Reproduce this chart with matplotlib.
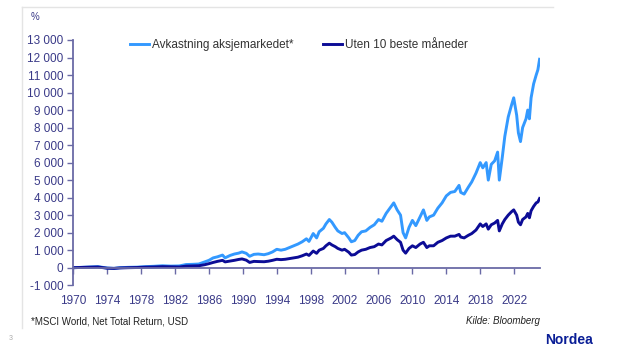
import matplotlib
matplotlib.use("Agg")
import matplotlib.pyplot as plt
from matplotlib.lines import Line2D

# dates (decimal years) and cumulative return in %
years = [1970.0, 1971.0, 1972.0, 1972.9, 1974.0, 1974.8, 1975.5, 1976.5, 1977.5, 1978.5,
         1979.5, 1980.5, 1981.5, 1982.5, 1983.3, 1984.0, 1984.8, 1985.5, 1986.0, 1986.5,
         1987.0, 1987.6, 1987.9, 1988.5, 1989.0, 1989.5, 1989.9, 1990.4, 1990.8, 1991.3,
         1991.8, 1992.5, 1993.0, 1993.5, 1994.0, 1994.5, 1995.0, 1995.5, 1996.0, 1996.5,
         1997.0, 1997.5, 1997.8, 1998.3, 1998.7, 1999.0, 1999.5, 1999.8, 2000.2, 2000.5,
         2000.9, 2001.2, 2001.7, 2002.0, 2002.5, 2002.8, 2003.2, 2003.6, 2004.0, 2004.5,
         2005.0, 2005.5, 2006.0, 2006.4, 2006.9, 2007.5, 2007.8, 2008.2, 2008.6, 2008.9,
         2009.2, 2009.6, 2010.0, 2010.4, 2010.9, 2011.3, 2011.7, 2012.0, 2012.5, 2013.0,
         2013.5, 2014.0, 2014.5, 2015.0, 2015.5, 2015.7, 2016.1, 2016.6, 2017.0, 2017.5,
         2018.0, 2018.3, 2018.7, 2018.95, 2019.3, 2019.7, 2020.05, 2020.25, 2020.6, 2020.9,
         2021.3, 2021.7, 2021.95, 2022.3, 2022.5, 2022.75, 2023.0, 2023.4, 2023.6, 2023.8,
         2024.0, 2024.3, 2024.6, 2024.8, 2025.0]

full = [0, 20, 40, 60, -20, -40, 0, 20, 30, 60,
        80, 110, 90, 100, 180, 190, 210, 330, 420, 560,
        620, 720, 560, 700, 780, 830, 900, 820, 650, 760,
        780, 740, 800, 900, 1050, 1000, 1050, 1150, 1250, 1350,
        1480, 1650, 1500, 1950, 1700, 2050, 2250, 2500, 2750, 2600,
        2300, 2100, 1950, 2000, 1700, 1480, 1550, 1850, 2050, 2100,
        2300, 2450, 2750, 2650, 3100, 3500, 3700, 3300, 3000, 2000,
        1700, 2300, 2700, 2400, 2900, 3300, 2700, 2900, 3000, 3400,
        3700, 4100, 4300, 4350, 4700, 4300, 4200, 4600, 4900, 5400,
        6000, 5700, 6000, 5000, 5900, 6100, 6600, 5000, 6300, 7500,
        8600, 9300, 9700, 8700, 7700, 7200, 8000, 8500, 9000, 8500,
        9700, 10500, 11000, 11300, 11900]

without_best = [0, 15, 30, 40, -30, -40, -15, 0, 10, 30,
                40, 60, 50, 40, 90, 100, 110, 170, 230, 300,
                360, 420, 330, 380, 420, 470, 500, 430, 300, 360,
                350, 340, 370, 420, 480, 460, 480, 520, 560, 600,
                680, 780, 700, 950, 820, 1000, 1100, 1250, 1400, 1300,
                1200, 1100, 1000, 1050, 880, 720, 750, 900, 1000, 1050,
                1150, 1200, 1350, 1300, 1550, 1700, 1800, 1600, 1450, 1000,
                830, 1100, 1250, 1150, 1350, 1450, 1150, 1250, 1250, 1450,
                1550, 1700, 1800, 1800, 1900, 1750, 1700, 1850, 1950, 2150,
                2500, 2350, 2500, 2200, 2450, 2550, 2700, 2100, 2500, 2750,
                3000, 3200, 3300, 3000, 2600, 2450, 2750, 2900, 3100, 2850,
                3250, 3500, 3700, 3750, 3950]

x_ticks = list(range(1970, 2025, 4))
y_ticks = list(range(-1000, 13001, 1000))

light = "#3399ff"
dark = "#0c0c96"
axis_col = "#6a6aa6"
tick_col = "#3a3a88"

plt.rcParams["font.family"] = ["Liberation Sans", "DejaVu Sans"]

fig = plt.figure(figsize=(6.4, 3.6), dpi=100)
fig.patch.set_facecolor("white")

# faint frame round the chart block
fig.add_artist(Line2D([22/640, 553/640], [1-7/360, 1-7/360], color="#e4e4e4", lw=1))
fig.add_artist(Line2D([22/640, 22/640], [1-7/360, 1-328/360], color="#e4e4e4", lw=1))

ax = fig.add_axes([73.3/640, 1-285.2/360, (540-73.3)/640, (285.2-40)/360])
ax.plot(years, full, color=light, lw=2.1, label="Avkastning aksjemarkedet*")
ax.plot(years, without_best, color=dark, lw=2.1, label="Uten 10 beste måneder")

ax.set_xlim(1970, 2025.05)
ax.set_ylim(-1000, 13000)
ax.set_yticks(y_ticks)
ax.set_yticklabels([f"{v:,}".replace(",", " ") for v in y_ticks])
ax.set_xticks(x_ticks)
ax.set_xticklabels([str(v) for v in x_ticks])

for s in ["top", "right"]:
    ax.spines[s].set_visible(False)
ax.spines["bottom"].set_position(("data", 0))
ax.spines["left"].set_color(axis_col)
ax.spines["bottom"].set_color(axis_col)
ax.spines["left"].set_linewidth(1.3)
ax.spines["bottom"].set_linewidth(1.3)
ax.tick_params(axis="y", direction="out", length=4, width=1, color=axis_col,
               labelcolor=tick_col, labelsize=8.5, pad=3)
ax.tick_params(axis="x", direction="out", length=4, width=1, color=axis_col,
               labelcolor=tick_col, labelsize=8.5, pad=16)

leg = fig.legend(loc="center left", bbox_to_anchor=(130/640, 1-45/360), ncol=2,
                 frameon=False, fontsize=8.5, handlelength=1.6, handletextpad=0.25,
                 columnspacing=2.5, borderpad=0, borderaxespad=0)
for t in leg.get_texts():
    t.set_color("#333333")

fig.text(31/640, 1-17/360, "%", color=tick_col, fontsize=7, va="center", ha="left")
fig.text(31/640, 1-321/360, "*MSCI World, Net Total Return, USD", color="#222222",
         fontsize=7, va="center", ha="left")
fig.text(540/640, 1-321/360, "Kilde: Bloomberg", color="#222222", fontsize=7,
         style="italic", va="center", ha="right")
fig.text(11/640, 1-339/360, "3", color="#aaaaaa", fontsize=5, va="center", ha="center")
fig.text(569/640, 1-340/360, "Nordea", color="#0a1e96", fontsize=10, fontweight="bold",
         va="center", ha="center")

fig.savefig("out.png", dpi=100)
